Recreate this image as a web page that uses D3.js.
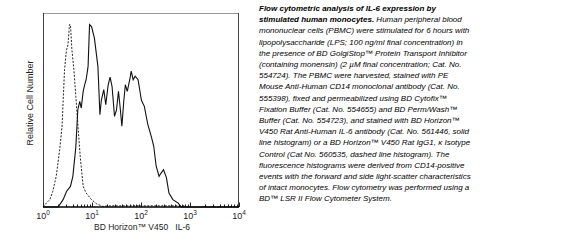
<!DOCTYPE html>
<html>
<head>
<meta charset="utf-8">
<script src="https://cdn.jsdelivr.net/npm/d3@7"></script>
<style>
  body { margin: 0; background: #fff; }
  svg { display: block; font-family: "Liberation Sans", Arial, sans-serif; }
</style>
</head>
<body>
<svg id="chart" width="567" height="242"></svg>
<script>
// decade ticks on the log axis
var decades = [1, 10, 100, 1000, 10000];
var exponents = ["0", "1", "2", "3", "4"];

// IL-6 stain (solid) : fluorescence intensity, relative count
var solidX = [1, 2.04, 2.57, 3.02, 3.63, 4.07, 4.68, 5.13, 5.62, 6.03, 6.61, 7.08, 7.59, 8.32, 8.91, 9.77,
  11.2, 13.2, 14.5, 15.5, 17.4, 19.1, 21.4, 23.4, 25.7, 28.8, 31.6, 34.7, 38.0, 40.7, 44.7, 47.9, 52.5,
  58.9, 63.1, 69.2, 75.9, 87.1, 102, 117, 138, 162, 182, 204, 234, 257, 288, 331, 372, 447, 575, 661, 10000];
var solidY = [0, 0, 3.8, 8, 10.6, 15.8, 31, 50, 54.5, 51, 59.6, 63, 65.6, 72.5, 94, 93,
  87, 72.5, 47.6, 55, 60.5, 52.7, 63, 67, 62, 46.7, 50, 59.6, 50, 41.6, 55, 63, 59.6,
  65.6, 70, 65.6, 67.4, 65.6, 55, 51.9, 42.4, 36.4, 31.3, 21, 15.8, 17.5, 19.2, 15, 7.2, 3.8, 2, 0, 0];

// isotype control (dashed)
var dashX = [1, 1.17, 1.38, 1.58, 1.86, 2.19, 2.45, 2.75, 3.02, 3.24, 3.47, 3.63, 3.89, 4.27, 4.68,
  5.13, 5.75, 6.61, 7.59, 9.77, 12.3, 16.6, 22.9, 800];
var dashY = [0, 2, 3.8, 8, 15.8, 29.5, 41.6, 70.8, 81, 83.7, 94, 94, 81, 70.8, 57,
  43, 26, 10.6, 7.2, 3.8, 1.7, 0.3, 0.6, 0.6];

var captionBold = ["Flow cytometric analysis of IL-6 expression by", "stimulated human monocytes."];
var captionLines = [
  "",
  " Human peripheral blood",
  "mononuclear cells (PBMC) were stimulated for 6 hours with",
  "lipopolysaccharide (LPS; 100 ng/ml final concentration) in",
  "the presence of BD GolgiStop\u2122 Protein Transport Inhibitor",
  "(containing monensin) (2 \u00b5M final concentration; Cat. No.",
  "554724). The PBMC were harvested, stained with PE",
  "Mouse Anti-Human CD14 monoclonal antibody (Cat. No.",
  "555398), fixed and permeabilized using BD Cytofix\u2122",
  "Fixation Buffer (Cat. No. 554655) and BD Perm/Wash\u2122",
  "Buffer (Cat. No. 554723), and stained with BD Horizon\u2122",
  "V450 Rat Anti-Human IL-6 antibody (Cat. No. 561446, solid",
  "line histogram) or a BD Horizon\u2122 V450 Rat IgG1, \u03ba Isotype",
  "Control (Cat No. 560535, dashed line histogram). The",
  "fluorescence histograms were derived from CD14-positive",
  "events with the forward and side light-scatter characteristics",
  "of intact monocytes. Flow cytometry was performed using a",
  "BD\u2122 LSR II Flow Cytometer System."
];

var margin = {top: 13, left: 43};
var width = 196, height = 194;

var svg = d3.select("#chart");
var g = svg.append("g")
    .attr("transform", "translate(" + margin.left + "," + margin.top + ")");

var x = d3.scaleLog().domain([1, 10000]).range([0, width]);
var y = d3.scaleLinear().domain([0, 100]).range([height, 0]);

// frame
g.append("line").attr("x1", 0).attr("x2", width).attr("y1", 0.5).attr("y2", 0.5)
    .attr("stroke", "#999").attr("stroke-width", 1);
g.append("line").attr("x1", 0.5).attr("x2", 0.5).attr("y1", 0).attr("y2", height)
    .attr("stroke", "#444").attr("stroke-width", 1);
g.append("line").attr("x1", width - 0.5).attr("x2", width - 0.5).attr("y1", 0).attr("y2", height)
    .attr("stroke", "#444").attr("stroke-width", 1);

// minor + major ticks pointing inward
var minor = [];
decades.slice(0, 4).forEach(function(d) {
  for (var k = 2; k <= 9; k++) minor.push(d * k);
});
g.append("g").selectAll("line").data(minor).enter().append("line")
    .attr("x1", (d) => Math.round(x(d)) + 0.5).attr("x2", (d) => Math.round(x(d)) + 0.5)
    .attr("y1", height).attr("y2", height - 2.5)
    .attr("stroke", "#222").attr("stroke-width", 1);
g.append("g").selectAll("line").data(decades).enter().append("line")
    .attr("x1", (d) => Math.round(x(d)) + 0.5).attr("x2", (d) => Math.round(x(d)) + 0.5)
    .attr("y1", height).attr("y2", height - 4.5)
    .attr("stroke", "#222").attr("stroke-width", 1);

var line = d3.line()
    .x((d) => x(d[0]))
    .y((d) => y(d[1]));

g.append("path")
    .datum(dashX.map((v, i) => [v, dashY[i]]))
    .attr("d", line)
    .attr("fill", "none")
    .attr("stroke", "#222")
    .attr("stroke-width", 1)
    .attr("stroke-dasharray", "2,1.5");

g.append("path")
    .datum(solidX.map((v, i) => [v, solidY[i]]))
    .attr("d", line)
    .attr("fill", "none")
    .attr("stroke", "#111")
    .attr("stroke-width", 1.1);

// baseline
g.append("line").attr("x1", 0).attr("x2", width).attr("y1", height).attr("y2", height)
    .attr("stroke", "#000").attr("stroke-width", 1.6);

// decade labels
var lab = g.append("g").selectAll("text").data(decades).enter().append("text")
    .attr("x", (d) => x(d))
    .attr("y", height + 12)
    .attr("text-anchor", "middle")
    .attr("font-size", 9)
    .attr("fill", "#222");
lab.append("tspan").text("10");
lab.append("tspan").attr("dy", -4).attr("font-size", 6.5).text((d, i) => exponents[i]);

g.append("text")
    .attr("x", width / 2 + 1)
    .attr("y", height + 23)
    .attr("text-anchor", "middle")
    .attr("font-size", 8.5)
    .attr("fill", "#222")
    .attr("xml:space", "preserve")
    .text("BD Horizon\u2122 V450   IL-6");

g.append("text")
    .attr("transform", "translate(-10," + (height / 2 - 7) + ") rotate(-90)")
    .attr("text-anchor", "middle")
    .attr("font-size", 9)
    .attr("fill", "#222")
    .text("Relative Cell Number");

// caption
var cap = svg.append("text")
    .attr("x", 259)
    .attr("y", 11)
    .attr("font-size", 8)
    .attr("font-style", "italic")
    .attr("fill", "#000");
captionLines.forEach(function(t, i) {
  var ln = cap.append("tspan").attr("x", 259).attr("dy", i === 0 ? 0 : 11.2);
  if (i < 2) {
    ln.append("tspan").attr("font-weight", "bold").text(captionBold[i]);
    if (t) ln.append("tspan").text(t);
  } else {
    ln.text(t);
  }
});
</script>
</body>
</html>
